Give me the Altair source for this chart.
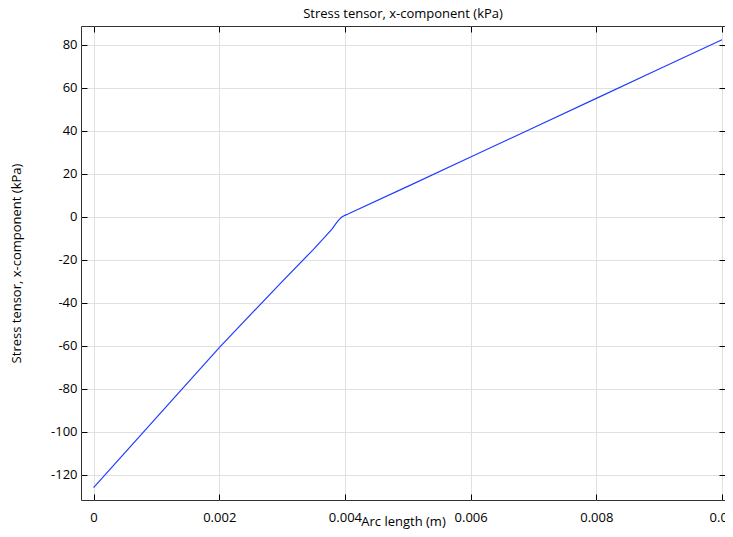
import altair as alt
import pandas as pd

# Arc length (m) and stress tensor x-component (kPa)
arc_length = [0.0, 0.001, 0.002, 0.003, 0.0035, 0.0037, 0.0038, 0.00385, 0.0039,
              0.00395, 0.004, 0.00405, 0.0041, 0.005, 0.006, 0.007, 0.008, 0.009, 0.01]
stress_x = [-126.0, -93.5, -60.9, -30.2, -15.2, -8.8, -5.6, -3.5, -1.6,
            -0.2, 0.6, 1.2, 1.9, 14.05, 27.7, 41.35, 55.0, 68.65, 82.3]

x_ticks = [0, 0.002, 0.004, 0.006, 0.008, 0.01]
y_ticks = [-120, -100, -80, -60, -40, -20, 0, 20, 40, 60, 80]

df = pd.DataFrame({"arc": arc_length, "sx": stress_x})

FONT = "Open Sans"
x_scale = alt.Scale(domain=[-0.0002, 0.010048], nice=False, zero=False)
y_scale = alt.Scale(domain=[-131.8, 88.66], nice=False, zero=False)

common_axis = dict(
    domain=False, tickSize=6, offset=-6, tickColor="#000000", tickWidth=1,
    labelFont=FONT, labelFontSize=13, labelColor="#000000",
    titleFont=FONT, titleFontSize=13, titleFontWeight="normal", titleColor="#000000",
    gridColor="#e0e0e0", gridWidth=1,
)

line = alt.Chart(df).mark_line(color="#1f3dff", strokeWidth=1.2).encode(
    x=alt.X("arc:Q", scale=x_scale,
            axis=alt.Axis(orient="bottom", values=x_ticks, format="~g", grid=True,
                          title="Arc length (m)", labelPadding=11,
                          titleBaseline="alphabetic", titleY=31,
                          labelFlush=False, **common_axis)),
    y=alt.Y("sx:Q", scale=y_scale,
            axis=alt.Axis(orient="left", values=y_ticks, labelExpr="toString(datum.value)",
                          grid=True, title="Stress tensor, x-component (kPa)",
                          labelPadding=4, titlePadding=27, labelFlush=False, **common_axis)),
)

frame = alt.Chart(df).mark_line(opacity=0).encode(
    x=alt.X("arc:Q", scale=x_scale,
            axis=alt.Axis(orient="top", values=x_ticks, labels=False, grid=False,
                          title=None, **common_axis)),
    y=alt.Y("sx:Q", scale=y_scale,
            axis=alt.Axis(orient="right", values=y_ticks, labels=False, grid=False,
                          title=None, **common_axis)),
)

chart = alt.layer(line, frame).resolve_axis(x="independent", y="independent").properties(
    width=644, height=474,
    title=alt.TitleParams("Stress tensor, x-component (kPa)", font=FONT, fontSize=13,
                          fontWeight="normal", color="#000000", anchor="middle", offset=5),
    autosize=alt.AutoSizeParams(type="none"),
    padding={"left": 73, "top": 18, "right": 0, "bottom": 29},
    background="#ffffff",
).configure_view(stroke="#333333", strokeWidth=1)

chart.save("out.html", embed_options={"renderer": "svg", "actions": False})
